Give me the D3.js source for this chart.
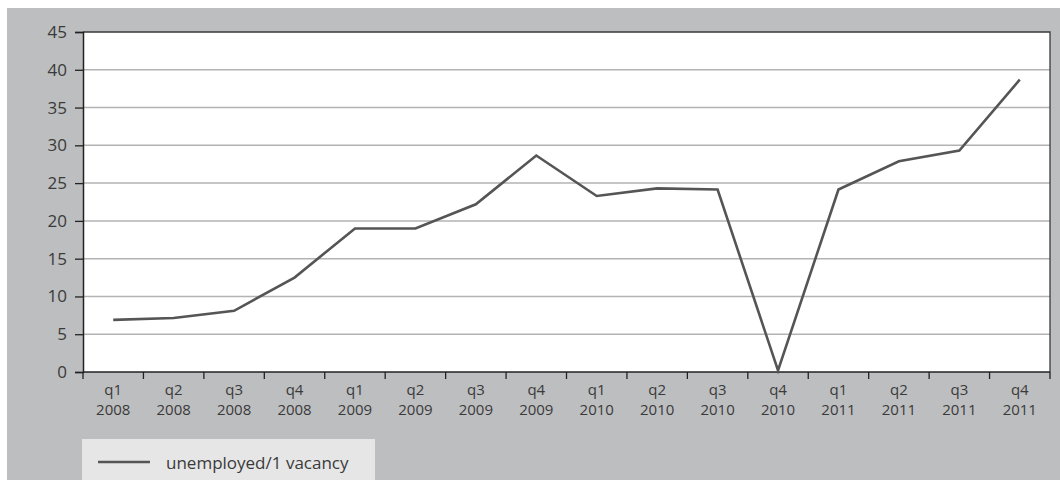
<!DOCTYPE html>
<html>
<head>
<meta charset="utf-8">
<script src="https://cdn.jsdelivr.net/npm/d3@7"></script>
<style>
  html, body { margin: 0; padding: 0; background: #ffffff; }
  svg { display: block; }
  text { font-family: "Open Sans", "Noto Sans", sans-serif; fill: #3a3a3a; }
</style>
</head>
<body>
<svg id="chart" width="1060" height="480"></svg>
<script>
// Quarterly categories (two-line labels: quarter / year)
const quarters = ["q1","q2","q3","q4","q1","q2","q3","q4","q1","q2","q3","q4","q1","q2","q3","q4"];
const years = ["2008","2008","2008","2008","2009","2009","2009","2009","2010","2010","2010","2010","2011","2011","2011","2011"];
// Unemployed persons per one vacancy
const unemployedPerVacancy = [6.9, 7.15, 8.1, 12.5, 19.0, 19.0, 22.2, 28.65, 23.3, 24.3, 24.15, 0.2, 24.15, 27.9, 29.3, 38.7];
const yTicks = [0, 5, 10, 15, 20, 25, 30, 35, 40, 45];
const seriesName = "unemployed/1 vacancy";

const svg = d3.select("#chart");
const W = 1060, H = 480;
const plot = { left: 83, top: 32, right: 1050, bottom: 372 };

// panel background
svg.append("rect").attr("x", 7).attr("y", 8).attr("width", W - 7).attr("height", H - 8)
  .attr("fill", "#bdbec0");

svg.append("rect").attr("x", plot.left).attr("y", plot.top)
  .attr("width", plot.right - plot.left).attr("height", plot.bottom - plot.top)
  .attr("fill", "#ffffff");

const keys = quarters.map((q, i) => i);
const x = d3.scaleBand().domain(keys).range([plot.left, plot.right]).padding(0);
const y = d3.scaleLinear().domain([0, 45]).range([plot.bottom, plot.top]);

// horizontal gridlines
svg.append("g").selectAll("line").data(yTicks.filter(t => t > 0 && t < 45)).join("line")
  .attr("x1", plot.left).attr("x2", plot.right)
  .attr("y1", d => y(d)).attr("y2", d => y(d))
  .attr("stroke", "#b3b3b3").attr("stroke-width", 1.5);

// plot frame (top and right)
svg.append("path")
  .attr("d", `M${plot.left},${plot.top}H${plot.right}V${plot.bottom}`)
  .attr("fill", "none").attr("stroke", "#3a3a3a").attr("stroke-width", 1.3);

// y axis
const yAxis = d3.axisLeft(y).tickValues(yTicks).tickSize(8).tickPadding(8);
const gy = svg.append("g").attr("transform", `translate(${plot.left},0)`).call(yAxis);
gy.select(".domain").attr("stroke", "#222").attr("stroke-width", 1.5);
gy.selectAll(".tick line").attr("stroke", "#222").attr("stroke-width", 1.3);
gy.selectAll(".tick text").attr("font-size", 17).attr("fill", "#3a3a3a")
  .style("font-family", "'Open Sans', 'Noto Sans', sans-serif");

// x axis: ticks on category boundaries
const gx = svg.append("g");
gx.append("line").attr("x1", plot.left).attr("x2", plot.right)
  .attr("y1", plot.bottom).attr("y2", plot.bottom)
  .attr("stroke", "#222").attr("stroke-width", 1.5);
const bounds = keys.map(k => x(k)).concat([x(keys[keys.length - 1]) + x.bandwidth()]);
gx.selectAll("line.tk").data(bounds).join("line").attr("class", "tk")
  .attr("x1", d => d).attr("x2", d => d)
  .attr("y1", plot.bottom).attr("y2", plot.bottom + 7)
  .attr("stroke", "#222").attr("stroke-width", 1.3);
// quarter line and year line as separate text rows
gx.selectAll("text.q").data(keys).join("text").attr("class", "q")
  .attr("x", d => x(d) + x.bandwidth() / 2).attr("y", 394.5)
  .attr("text-anchor", "middle").attr("font-size", 15)
  .text(d => quarters[d]);
gx.selectAll("text.yr").data(keys).join("text").attr("class", "yr")
  .attr("x", d => x(d) + x.bandwidth() / 2).attr("y", 415)
  .attr("text-anchor", "middle").attr("font-size", 15)
  .text(d => years[d]);

// series line
const line = d3.line()
  .x((d, i) => x(i) + x.bandwidth() / 2)
  .y(d => y(d));
svg.append("path").datum(unemployedPerVacancy)
  .attr("d", line)
  .attr("fill", "none").attr("stroke", "#555555").attr("stroke-width", 2.6)
  .attr("stroke-linejoin", "miter");

// legend
const lg = svg.append("g");
lg.append("rect").attr("x", 82).attr("y", 439).attr("width", 293).attr("height", 41)
  .attr("fill", "#e6e6e7");
lg.append("line").attr("x1", 98).attr("x2", 150).attr("y1", 462).attr("y2", 462)
  .attr("stroke", "#555555").attr("stroke-width", 2.6);
lg.append("text").attr("x", 166).attr("y", 469).attr("font-size", 17).text(seriesName);
</script>
</body>
</html>
